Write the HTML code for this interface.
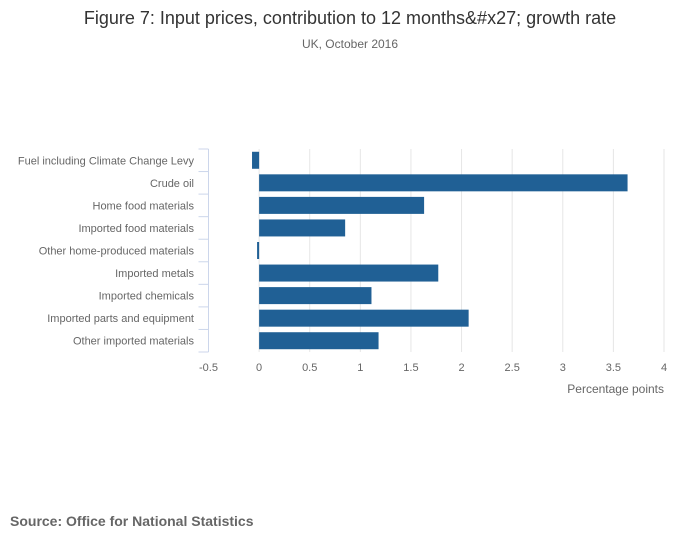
<!DOCTYPE html>
<html><head><meta charset="utf-8"><style>
body{margin:0;background:#fff;font-family:"Liberation Sans",sans-serif;}
</style></head><body>
<svg width="700" height="549" xmlns="http://www.w3.org/2000/svg" font-family="Liberation Sans, sans-serif">
<rect width="700" height="549" fill="#fff"/>
<text x="350" y="24" text-anchor="middle" font-size="18" fill="#333">Figure 7: Input prices, contribution to 12 months&amp;#x27; growth rate</text>
<text x="350" y="48" text-anchor="middle" font-size="12" fill="#666">UK, October 2016</text>
<g id="grid"></g><g id="bars"></g><g id="axes"></g>
<text x="664" y="393" text-anchor="end" font-size="12" fill="#666">Percentage points</text>
<text x="10" y="526" font-size="14" font-weight="bold" fill="#666">Source: Office for National Statistics</text>
</svg>
<script>
const categories=["Fuel including Climate Change Levy","Crude oil","Home food materials","Imported food materials","Other home-produced materials","Imported metals","Imported chemicals","Imported parts and equipment","Other imported materials"];
const values=[-0.07,3.64,1.63,0.85,-0.02,1.77,1.11,2.07,1.18];
const ticks=[-0.5,0,0.5,1,1.5,2,2.5,3,3.5,4];
const NS="http://www.w3.org/2000/svg";
const x0=208.5,x1=664,plotTop=149,plotBottom=352,vmin=-0.5,vmax=4;
const xs=v=>x0+(v-vmin)/(vmax-vmin)*(x1-x0);
const step=(plotBottom-plotTop)/categories.length;
function mk(t,a,p){const e=document.createElementNS(NS,t);for(const k in a)e.setAttribute(k,a[k]);p.appendChild(e);return e;}
const grid=document.getElementById('grid'),bars=document.getElementById('bars'),axes=document.getElementById('axes');
ticks.forEach(t=>{
 if(t!==vmin){const l=mk('line',{x1:xs(t),x2:xs(t),y1:plotTop,y2:plotBottom,stroke:'#e6e6e6'},grid);
 
 }
 const tx=mk('text',{x:xs(t),y:plotBottom+19,'text-anchor':'middle','font-size':11,fill:'#666'},axes);
 tx.textContent=t;
 
 
});
const al=mk('line',{x1:x0,x2:x0,y1:plotTop,y2:plotBottom,stroke:'#ccd6eb'},axes);


for(let i=0;i<=categories.length;i++){const y=plotTop+i*step;
 const tk=mk('line',{x1:x0-10,x2:x0,y1:y,y2:y,stroke:'#ccd6eb'},axes);
 
 }
categories.forEach((c,i)=>{
 const cy=plotTop+(i+0.5)*step,v=values[i];
 const a=xs(Math.min(0,v)),b=xs(Math.max(0,v));
 const r=mk('rect',{x:a,y:cy-8.5,width:Math.max(b-a,1),height:17,fill:'#206095'},bars);
 
 
 const t=mk('text',{x:194,y:cy+4,'text-anchor':'end','font-size':11,fill:'#666'},axes);
 t.textContent=c;
 
 
});
</script>
</body></html>
